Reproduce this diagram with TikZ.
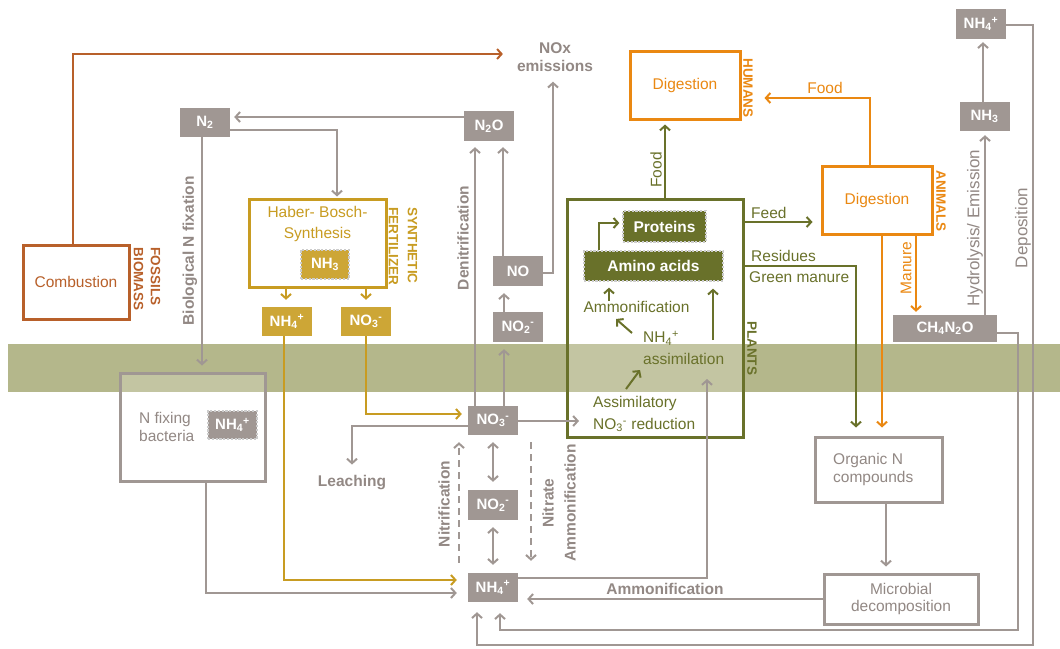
\documentclass[tikz,border=0pt]{standalone}
\usepackage{fontspec}
\setmainfont{Liberation Sans}
\usetikzlibrary{arrows.meta}

\definecolor{ngray}{RGB}{160,151,147}
\definecolor{ntext}{RGB}{146,136,132}
\definecolor{nbrown}{RGB}{184,96,42}
\definecolor{ngold}{RGB}{200,156,34}
\definecolor{ngoldfill}{RGB}{205,166,54}
\definecolor{ngreen}{RGB}{105,113,42}
\definecolor{norange}{RGB}{234,136,18}
\definecolor{nband}{RGB}{180,183,139}

\tikzset{
  headtip/.style={-{Straight Barb[length=4.5pt,width=10pt]}},
  wire/.style={line width=2pt, headtip, shorten >=4pt},
  graywire/.style={wire, draw=ngray},
  goldwire/.style={wire, draw=ngold},
  greenwire/.style={wire, draw=ngreen},
  orangewire/.style={wire, draw=norange},
  brownwire/.style={wire, draw=nbrown},
  dashwire/.style={graywire, dash pattern=on 7pt off 5pt},
  twoway/.style={graywire, {Straight Barb[length=4.5pt,width=10pt]}-{Straight Barb[length=4.5pt,width=10pt]}},
  reg/.style={font=\fontsize{15.5}{18}\selectfont, inner sep=0pt},
  bld/.style={font=\bfseries\fontsize{15.5}{18}\selectfont, inner sep=0pt},
  tag/.style={font=\bfseries\fontsize{13.5}{17}\selectfont, inner sep=0pt, align=left, rotate=-90},
  chip/.style={inner sep=0pt, minimum width=50pt, minimum height=29pt, text=white,
    font=\bfseries\fontsize{15}{18}\selectfont},
  graychip/.style={chip, fill=ngray},
  goldchip/.style={chip, fill=ngoldfill},
  dchip/.style={chip, draw=white!80!black, line width=1.3pt, dash pattern=on 2.2pt off 1.6pt},
  frame/.style={line width=3pt, fill=white, inner sep=0pt},
  clearframe/.style={frame, fill opacity=0.2},
}

\begin{document}
\begin{tikzpicture}[x=1pt,y=-1pt]
\useasboundingbox (0,0) rectangle (1060,648);

% soil surface band
\fill[nband] (8,344) rectangle (1060,392);

% ---- framed processes ----
\node[frame, draw=nbrown, minimum width=106pt, minimum height=74pt, text=nbrown,
      font=\fontsize{15.5}{18}\selectfont] (comb) at (76,282) {Combustion};
\node[frame, draw=ngold, minimum width=137pt, minimum height=88pt] (haber) at (317.5,243) {};
\node[clearframe, draw=ngray, minimum width=145pt, minimum height=108pt] (nfix) at (192.5,427) {};
\node[clearframe, draw=ngreen, minimum width=176pt, minimum height=238pt] (plant) at (655,318) {};
\node[frame, draw=norange, minimum width=110pt, minimum height=68pt, text=norange,
      font=\fontsize{15.5}{18}\selectfont] (hum) at (685,85) {Digestion};
\node[frame, draw=norange, minimum width=110pt, minimum height=68pt, text=norange,
      font=\fontsize{15.5}{18}\selectfont] (anim) at (877,200) {Digestion};
\node[frame, draw=ngray, minimum width=127pt, minimum height=65pt] (orgn) at (878.5,469.5) {};
\node[frame, draw=ngray, minimum width=154pt, minimum height=50pt, text=ntext, align=center,
      font=\fontsize{15.5}{17.5}\selectfont] (micro) at (901,599) {Microbial\\decomposition};

% ---- compound chips ----
\node[graychip] (N2) at (205,122.5) {N\textsubscript{2}};
\node[graychip, minimum height=30pt] (N2O) at (489,126) {N\textsubscript{2}O};
\node[graychip, minimum height=30pt] (NO) at (518,271) {NO};
\node[graychip, minimum height=30pt] (NO2u) at (518,327) {NO\textsubscript{2}\textsuperscript{-}};
\node[graychip] (NO3) at (493,420.5) {NO\textsubscript{3}\textsuperscript{-}};
\node[graychip, minimum height=30pt] (NO2l) at (493,505) {NO\textsubscript{2}\textsuperscript{-}};
\node[graychip] (NH4) at (493,587.5) {NH\textsubscript{4}\textsuperscript{+}};
\node[graychip, minimum height=30pt] (NH4t) at (981,24) {NH\textsubscript{4}\textsuperscript{+}};
\node[graychip] (NH3) at (984.5,116.5) {NH\textsubscript{3}};
\node[graychip, minimum width=104pt, minimum height=27pt] (CH4) at (945,328.5) {CH\textsubscript{4}N\textsubscript{2}O};
\node[goldchip] (NH4g) at (287,321.5) {NH\textsubscript{4}\textsuperscript{+}};
\node[goldchip] (NO3g) at (366,321.5) {NO\textsubscript{3}\textsuperscript{-}};
\node[dchip, fill=ngoldfill, minimum width=48pt] (NH3d) at (325,264.5) {NH\textsubscript{3}};
\node[dchip, fill=ngray, minimum width=49pt, minimum height=28pt] (NH4d) at (232.5,425) {NH\textsubscript{4}\textsuperscript{+}};
\node[dchip, fill=ngreen, minimum width=83pt, minimum height=31pt,
      font=\bfseries\fontsize{15.5}{18}\selectfont] (prot) at (664.5,226.5) {Proteins};
\node[dchip, fill=ngreen, minimum width=139pt, minimum height=30pt,
      font=\bfseries\fontsize{15.5}{18}\selectfont] (amino) at (653.5,266) {Amino acids};

% ---- texts ----
\node[reg, text=ngold, align=center, font=\fontsize{15.5}{21}\selectfont] (habertx) at (317.5,224) {Haber- Bosch-\\Synthesis};
\node[reg, text=ntext, align=left, anchor=west] (nfixtx) at (139,427) {N fixing\\bacteria};
\node[reg, text=ntext, align=left, anchor=west] (orgntx) at (833,469) {Organic N\\compounds};

\node[tag, text=nbrown, font=\bfseries\fontsize{13.5}{17}\selectfont] (fostag) at (147,279) {FOSSILS\\BIOMASS};
\node[tag, text=ngold, font=\bfseries\fontsize{13.5}{19}\selectfont] (syntag) at (403,246) {SYNTHETIC\\FERTILIZER};
\node[tag, text=norange] (humtag) at (748,88) {HUMANS};
\node[tag, text=norange] (animtag) at (941,201) {ANIMALS};
\node[tag, text=ngreen] (planttag) at (752,348) {PLANTS};

\node[bld, text=ntext, rotate=90] (bnf) at (190,251) {Biological N fixation};
\node[bld, text=ntext, rotate=90] (den) at (463,238) {Denitrification};
\node[bld, text=ntext, align=center] (nox) at (555,57) {NOx\\emissions};
\node[bld, text=ntext] (leach) at (352,483) {Leaching};
\node[bld, text=ntext, rotate=90] (nitr) at (444,504) {Nitrification};
\node[bld, text=ntext, rotate=90, align=center, font=\bfseries\fontsize{15.5}{22}\selectfont] (namm) at (559,503) {Nitrate\\Ammonification};
\node[bld, text=ntext] (ammlab) at (665,589) {Ammonification};
\node[reg, text=ntext, rotate=90, font=\fontsize{17}{20}\selectfont] (depo) at (1023,228) {Deposition};
\node[reg, text=ntext, rotate=90, font=\fontsize{17}{20}\selectfont] (hydro) at (975,228) {Hydrolysis/ Emission};

\node[reg, text=ngreen, rotate=90] (foodp) at (656,170) {Food};
\node[reg, text=norange] (fooda) at (825,88) {Food};
\node[reg, text=norange, rotate=90] (manure) at (906,268) {Manure};
\node[reg, text=ngreen, anchor=west] (feed) at (751,213) {Feed};
\node[reg, text=ngreen, anchor=west] (resid) at (751,256) {Residues};
\node[reg, text=ngreen, anchor=west] (green) at (749,277) {Green manure};

\node[reg, text=ngreen] (ammtx) at (636.5,307) {Ammonification};
\node[reg, text=ngreen, align=left, anchor=west, font=\fontsize{15.5}{22}\selectfont] (asimtx) at (643,348) {NH\textsubscript{4}\textsuperscript{+}\\assimilation};
\node[reg, text=ngreen, align=left, anchor=west, font=\fontsize{15.5}{22}\selectfont] (asm) at (593,414) {Assimilatory\\NO\textsubscript{3}\textsuperscript{-} reduction};

% free ends of the short arrows inside the plant
\coordinate (a1s) at (632,333);
\coordinate (a1e) at (616,319);
\coordinate (a2s) at (626,389);
\coordinate (a2e) at (640,370);
\coordinate (a3s) at (713,340);
\coordinate (nh4in) at (707,379);

% ---- connectors ----
% combustion emissions
\draw[brownwire, shorten >=14pt] (comb.north -| 73,0) |- (nox.west |- 0,54);

% atmosphere
\draw[graywire] (N2O.west |- 0,117) -- (N2.east |- 0,117);
\draw[graywire, shorten >=1pt] (N2.east |- 0,130) -| (haber.north -| 337,0);
\draw[graywire, shorten >=6pt] (N2.south -| 202,0) -- (nfix.north -| 202,0);

% synthetic fertilizer
\draw[goldwire, shorten >=7pt] (haber.south -| 286,0) -- (NH4g.north -| 286,0);
\draw[goldwire, shorten >=7pt] (haber.south -| 366,0) -- (NO3g.north -| 366,0);
\draw[goldwire, shorten >=11pt] (NH4g.south -| 284,0) |- (NH4.west |- 0,580);
\draw[goldwire, shorten >=6pt] (NO3g.south -| 366,0) |- (NO3.west |- 0,414);

% bacteria
\draw[graywire, shorten >=11pt] (nfix.south -| 206,0) |- (NH4.west |- 0,593);

% nitrate pathways
\draw[graywire, shorten >=11pt] (NO3.west |- 0,426) -| (leach.north -| 352,0);
\draw[graywire, shorten >=14pt] (NO3.east |- 0,421) -- (asm.west |- 0,421);
\draw[graywire, shorten >=6pt] (NO3.north -| 475,0) -- (N2O.south -| 475,0);
\draw[graywire, shorten >=7pt] (NO3.north -| 504,0) -- (NO2u.south -| 504,0);
\draw[graywire, shorten >=7pt] (NO2u.north -| 504,0) -- (NO.south -| 504,0);
\draw[graywire, shorten >=6pt] (NO.north -| 503,0) -- (N2O.south -| 503,0);
\draw[graywire, shorten >=10pt] (NO.east |- 0,273) -| (nox.south -| 553,0);

% soil nitrogen transformations
\draw[twoway, shorten <=7pt, shorten >=8pt] (NO3.south -| 493,0) -- (NO2l.north -| 493,0);
\draw[twoway, shorten <=7pt, shorten >=8pt] (NO2l.south -| 493,0) -- (NH4.north -| 493,0);
\draw[dashwire, shorten <=10pt, shorten >=7pt] (NH4.north -| 459,0) -- (NO3.south -| 459,0);
\draw[dashwire, shorten <=7pt, shorten >=12pt] (NO3.south -| 531,0) -- (NH4.north -| 531,0);

% ammonium uptake and recycling
\draw[graywire, shorten >=0pt] (NH4.east |- 0,578) -| (nh4in);
\draw[graywire, shorten >=9pt] (micro.west |- 0,599) -- (NH4.east |- 0,599);
\draw[graywire, shorten >=6pt] (orgn.south -| 886,0) -- (micro.north -| 886,0);
\draw[graywire, shorten >=11pt] (CH4.east |- 0,333) -| (1018,630) -| (NH4.south -| 500,0);
\draw[graywire, shorten >=10pt] (NH4t.east |- 0,25) -| (1033,645) -| (NH4.south -| 477,0);
\draw[graywire, shorten >=4pt] (CH4.north -| 985,0) -- (NH3.south -| 985,0);
\draw[graywire, shorten >=3pt] (NH3.north -| 983,0) -- (NH4t.south -| 983,0);

% animals
\draw[orangewire, shorten >=3pt] (anim.south -| 916,0) -- (CH4.north -| 916,0);
\draw[orangewire, shorten >=8pt] (anim.south -| 882,0) -- (orgn.north -| 882,0);
\draw[orangewire, shorten >=23pt] (anim.north -| 870,0) |- (hum.east |- 0,98);

% plants
\draw[greenwire, shorten >=4pt] (plant.north -| 665,0) -- (hum.south -| 665,0);
\draw[greenwire, shorten >=8pt] (plant.east |- 0,222) -- (anim.west |- 0,222);
\draw[greenwire, shorten >=8pt] (plant.east |- 0,266) -| (orgn.north -| 856,0);
\draw[greenwire, shorten >=3pt] (amino.north -| 599,0) |- (prot.west |- 0,223);
\draw[greenwire, shorten >=6pt] (ammtx.north -| 609,0) -- (amino.south -| 609,0);
\draw[greenwire, shorten >=0pt] (a1s) -- (a1e);
\draw[greenwire, shorten >=0pt] (a2s) -- (a2e);
\draw[greenwire, shorten >=7pt] (a3s) -- (amino.south -| 713,0);
\end{tikzpicture}
\end{document}
